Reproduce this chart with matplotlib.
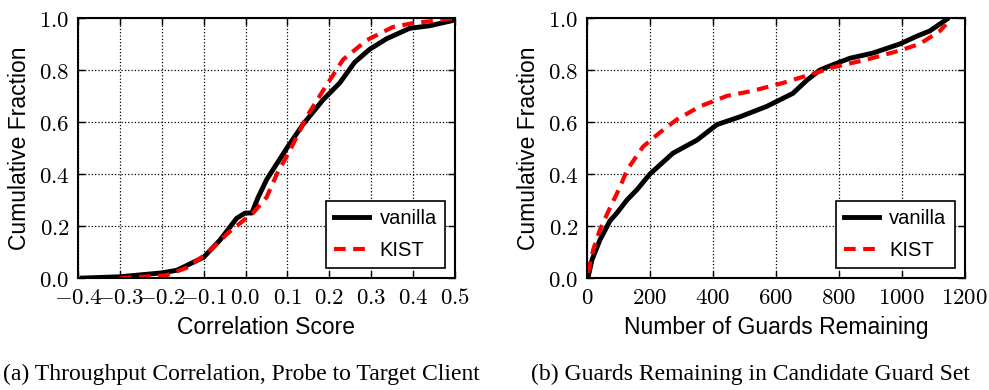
import matplotlib
matplotlib.use("Agg")
import matplotlib.pyplot as plt
from matplotlib.ticker import FuncFormatter, MultipleLocator

plt.rcParams["mathtext.fontset"] = "cm"
plt.rcParams["font.family"] = ["Liberation Sans", "DejaVu Sans"]
plt.rcParams["xtick.direction"] = "in"
plt.rcParams["ytick.direction"] = "in"

# (a) throughput correlation CDF
corr_vanilla_x = [-0.39, -0.3, -0.2, -0.164, -0.1, -0.061, -0.021, -0.001, 0.015, 0.03,
                  0.051, 0.099, 0.137, 0.185, 0.225, 0.261, 0.297, 0.337, 0.392, 0.44, 0.495]
corr_vanilla_y = [0.0, 0.005, 0.02, 0.03, 0.08, 0.146, 0.23, 0.25, 0.25, 0.31,
                  0.38, 0.50, 0.59, 0.685, 0.75, 0.83, 0.88, 0.92, 0.96, 0.97, 0.99]
corr_kist_x = [-0.3, -0.19, -0.14, -0.092, -0.044, -0.006, 0.018, 0.05, 0.075, 0.106,
               0.146, 0.185, 0.233, 0.29, 0.352, 0.40, 0.457, 0.5]
corr_kist_y = [0.0, 0.01, 0.04, 0.095, 0.17, 0.22, 0.25, 0.31, 0.40, 0.49,
               0.62, 0.72, 0.84, 0.915, 0.965, 0.98, 0.99, 1.0]

# (b) guards remaining CDF
guards_vanilla_x = [3, 16, 41, 73, 95, 127, 159, 200, 273, 349, 413, 486, 571, 654, 698,
                    740, 781, 835, 908, 994, 1048, 1089, 1143]
guards_vanilla_y = [0.0, 0.07, 0.146, 0.22, 0.25, 0.3, 0.34, 0.40, 0.48, 0.53, 0.59, 0.62,
                    0.66, 0.71, 0.76, 0.80, 0.82, 0.845, 0.865, 0.90, 0.93, 0.95, 0.995]
guards_kist_x = [3, 20, 41, 73, 105, 127, 178, 232, 286, 359, 444, 527, 622, 676, 730,
                 781, 889, 994, 1057, 1121, 1140]
guards_kist_y = [0.02, 0.11, 0.185, 0.27, 0.35, 0.415, 0.505, 0.56, 0.61, 0.66, 0.70, 0.72,
                 0.75, 0.77, 0.79, 0.81, 0.84, 0.875, 0.90, 0.95, 0.975]

fig = plt.figure(figsize=(9.89, 3.9), dpi=100)
ax1 = fig.add_axes([0.0789, 0.287, 0.381, 0.667])
ax2 = fig.add_axes([0.5935, 0.287, 0.382, 0.667])


def style(ax, xlabel, fmt):
    ax.set_ylim(0, 1)
    ax.yaxis.set_major_locator(MultipleLocator(0.2))
    ax.yaxis.set_major_formatter(FuncFormatter(lambda v, p: "$%.1f$" % v))
    ax.xaxis.set_major_formatter(FuncFormatter(fmt))
    ax.grid(True, color="black", linestyle=":", linewidth=0.9)
    ax.tick_params(labelsize=16.5, top=True, right=True, length=5, width=1, pad=6)
    for s in ax.spines.values():
        s.set_linewidth(1.5)
    ax.set_xlabel(xlabel, fontsize=16.5, labelpad=5)
    ax.set_ylabel("Cumulative Fraction", fontsize=16.5, labelpad=6)
    leg = ax.legend(loc="lower right", fontsize=14.5, fancybox=False, framealpha=1,
                    edgecolor="black", handlelength=1.75, handletextpad=0.5,
                    borderpad=0.4, labelspacing=0.65, borderaxespad=0.5)
    leg.get_frame().set_linewidth(1.2)


ax1.plot(corr_vanilla_x, corr_vanilla_y, color="black", lw=3.5, label="vanilla")
ax1.plot(corr_kist_x, corr_kist_y, color="red", lw=3, ls=(0, (2.8, 1.8)), label="KIST")
ax1.set_xlim(-0.4, 0.5)
ax1.xaxis.set_major_locator(MultipleLocator(0.1))
style(ax1, "Correlation Score", lambda v, p: "$%.1f$" % v)

ax2.plot(guards_vanilla_x, guards_vanilla_y, color="black", lw=3.5, label="vanilla")
ax2.plot(guards_kist_x, guards_kist_y, color="red", lw=3, ls=(0, (2.8, 1.8)), label="KIST")
ax2.set_xlim(0, 1200)
ax2.xaxis.set_major_locator(MultipleLocator(200))
style(ax2, "Number of Guards Remaining", lambda v, p: "$%d$" % v)

fig.text(0.244, 0.041, "(a) Throughput Correlation, Probe to Target Client",
         family="Liberation Serif", fontsize=17, ha="center", va="center")
fig.text(0.759, 0.041, "(b) Guards Remaining in Candidate Guard Set",
         family="Liberation Serif", fontsize=17, ha="center", va="center")

fig.savefig("out.png", dpi=100)
